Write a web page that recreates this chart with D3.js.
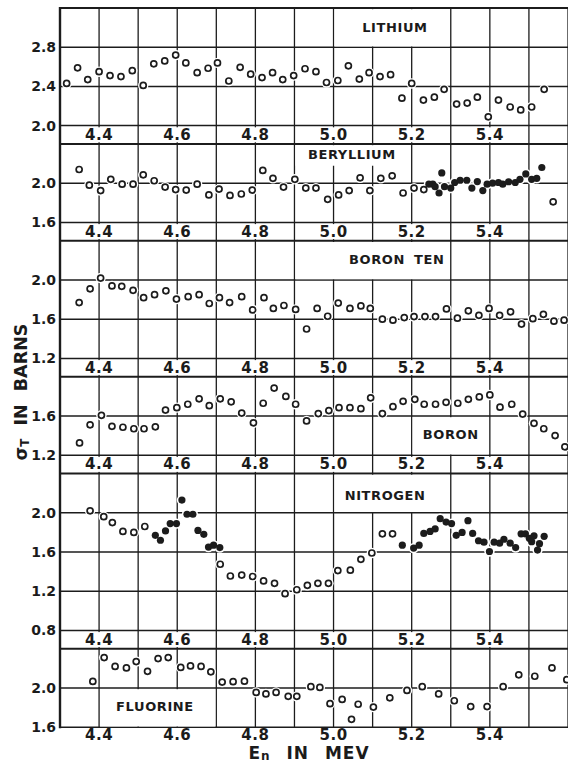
<!DOCTYPE html>
<html>
<head>
<meta charset="utf-8">
<script src="https://cdn.jsdelivr.net/npm/d3@7"></script>
<style>
  body { margin: 0; background: #fff; }
  text { font-family: "DejaVu Sans", sans-serif; font-weight: bold; fill: #1b1b1b; }
</style>
</head>
<body>
<script>
// total cross section (barns) vs neutron energy (MeV)
var energyTicks = [4.4, 4.6, 4.8, 5.0, 5.2, 5.4];

var lithiumOpen = [[4.317,2.43],[4.345,2.59],[4.371,2.47],[4.400,2.55],[4.428,2.51],[4.456,2.50],[4.485,2.56],[4.513,2.41],[4.540,2.63],[4.568,2.66],[4.596,2.72],[4.622,2.64],[4.651,2.54],[4.679,2.585],[4.703,2.64],[4.732,2.455],[4.761,2.595],[4.788,2.525],[4.817,2.49],[4.844,2.54],[4.870,2.47],[4.898,2.51],[4.927,2.58],[4.955,2.55],[4.982,2.44],[5.011,2.46],[5.038,2.61],[5.066,2.475],[5.091,2.54],[5.119,2.50],[5.146,2.52],[5.175,2.28],[5.200,2.43],[5.230,2.26],[5.258,2.29],[5.283,2.37],[5.315,2.22],[5.342,2.23],[5.368,2.29],[5.396,2.09],[5.422,2.26],[5.452,2.19],[5.479,2.16],[5.507,2.19],[5.539,2.37]];

var berylliumOpen = [[4.349,2.14],[4.375,1.98],[4.404,1.925],[4.430,2.04],[4.459,1.99],[4.487,1.99],[4.513,2.085],[4.541,2.025],[4.569,1.96],[4.596,1.935],[4.623,1.93],[4.651,1.99],[4.681,1.88],[4.707,1.94],[4.735,1.875],[4.764,1.89],[4.792,1.93],[4.819,2.13],[4.845,2.05],[4.872,1.96],[4.901,2.04],[4.929,1.95],[4.955,1.95],[4.985,1.835],[5.013,1.88],[5.040,1.925],[5.068,2.055],[5.093,1.925],[5.121,2.05],[5.150,2.075],[5.178,1.90],[5.206,1.95],[5.231,1.935],[5.562,1.81]];
var berylliumFilled = [[5.244,1.99],[5.254,1.99],[5.260,1.965],[5.270,1.90],[5.277,2.105],[5.284,1.965],[5.300,1.95],[5.310,2.007],[5.324,2.03],[5.341,2.03],[5.354,1.95],[5.368,2.017],[5.382,1.925],[5.393,1.99],[5.407,2.0],[5.422,2.007],[5.433,1.99],[5.448,2.015],[5.465,2.007],[5.477,2.04],[5.492,2.095],[5.507,2.04],[5.520,2.05],[5.533,2.16]];

var boronTenOpen = [[4.349,1.77],[4.377,1.91],[4.404,2.02],[4.433,1.94],[4.458,1.935],[4.487,1.895],[4.514,1.82],[4.542,1.85],[4.571,1.89],[4.598,1.805],[4.628,1.83],[4.656,1.85],[4.682,1.76],[4.708,1.82],[4.734,1.77],[4.765,1.83],[4.793,1.695],[4.822,1.82],[4.846,1.71],[4.873,1.74],[4.903,1.70],[4.931,1.50],[4.958,1.71],[4.985,1.63],[5.012,1.765],[5.042,1.71],[5.070,1.735],[5.094,1.71],[5.125,1.60],[5.152,1.59],[5.181,1.617],[5.206,1.627],[5.234,1.627],[5.261,1.627],[5.289,1.705],[5.317,1.61],[5.345,1.685],[5.372,1.64],[5.398,1.71],[5.425,1.64],[5.453,1.675],[5.481,1.55],[5.510,1.605],[5.537,1.65],[5.564,1.58],[5.590,1.59]];

var boronOpen = [[4.350,1.325],[4.377,1.51],[4.406,1.607],[4.433,1.495],[4.461,1.485],[4.489,1.47],[4.515,1.47],[4.544,1.49],[4.570,1.66],[4.599,1.685],[4.627,1.72],[4.656,1.775],[4.682,1.705],[4.710,1.775],[4.738,1.745],[4.765,1.63],[4.795,1.53],[4.820,1.73],[4.848,1.885],[4.878,1.80],[4.903,1.72],[4.931,1.55],[4.961,1.625],[4.988,1.655],[5.014,1.685],[5.042,1.685],[5.070,1.675],[5.095,1.785],[5.125,1.625],[5.152,1.695],[5.178,1.75],[5.208,1.77],[5.232,1.72],[5.261,1.72],[5.288,1.74],[5.318,1.73],[5.345,1.77],[5.373,1.795],[5.400,1.815],[5.426,1.69],[5.456,1.72],[5.484,1.62],[5.513,1.525],[5.538,1.47],[5.567,1.40],[5.592,1.285]];

var nitrogenOpen = [[4.377,2.02],[4.412,1.96],[4.434,1.90],[4.461,1.81],[4.489,1.80],[4.517,1.86],[4.710,1.475],[4.736,1.355],[4.765,1.365],[4.793,1.35],[4.821,1.305],[4.849,1.28],[4.876,1.175],[4.906,1.215],[4.933,1.26],[4.960,1.28],[4.987,1.28],[5.011,1.41],[5.043,1.415],[5.070,1.525],[5.098,1.59],[5.125,1.785],[5.151,1.785]];
var nitrogenFilled = [[4.544,1.77],[4.557,1.72],[4.570,1.815],[4.582,1.89],[4.598,1.89],[4.612,2.13],[4.625,1.985],[4.640,1.985],[4.653,1.82],[4.668,1.78],[4.680,1.65],[4.693,1.67],[4.709,1.645],[5.176,1.67],[5.205,1.64],[5.219,1.67],[5.231,1.79],[5.247,1.81],[5.260,1.835],[5.273,1.94],[5.288,1.905],[5.302,1.89],[5.314,1.77],[5.329,1.80],[5.344,1.92],[5.356,1.79],[5.371,1.715],[5.385,1.70],[5.399,1.605],[5.411,1.70],[5.425,1.69],[5.436,1.73],[5.452,1.69],[5.466,1.645],[5.480,1.785],[5.491,1.785],[5.501,1.74],[5.507,1.705],[5.513,1.765],[5.522,1.62],[5.527,1.685],[5.539,1.76]];

var fluorineOpen = [[4.384,2.067],[4.413,2.31],[4.441,2.22],[4.470,2.205],[4.495,2.27],[4.524,2.17],[4.551,2.30],[4.577,2.31],[4.609,2.21],[4.634,2.225],[4.661,2.22],[4.686,2.165],[4.715,2.06],[4.743,2.065],[4.772,2.07],[4.802,1.955],[4.827,1.94],[4.853,1.955],[4.884,1.915],[4.906,1.915],[4.942,2.014],[4.965,2.006],[4.991,1.84],[5.022,1.883],[5.046,1.68],[5.063,1.834],[5.102,1.805],[5.144,1.90],[5.188,1.975],[5.227,2.014],[5.269,1.94],[5.309,1.87],[5.351,1.81],[5.393,1.81],[5.434,2.014],[5.474,2.134],[5.515,2.12],[5.559,2.205],[5.597,2.085]];

var W = 568, H = 763;
var left = 60, top0 = 8, unit = 98, strip = 18.4;   // unit = px per barn
var ink = "#1c1c1c";

// box = [E from, E to, sigma from, sigma to] blanked behind the element name
var panels = [
  {name: "LITHIUM",   lo: 2.0, hi: 3.2, ticks: [2.0, 2.4, 2.8],      open: lithiumOpen,   filled: [],              box: [5.0, 5.3, 2.8, 3.2], at: [5.157, 3.0]},
  {name: "BERYLLIUM", lo: 1.6, hi: 2.4, ticks: [1.6, 2.0],           open: berylliumOpen, filled: berylliumFilled, box: [4.9, 5.2, 2.17, 2.4], at: [5.047, 2.29]},
  {name: "BORON TEN", lo: 1.2, hi: 2.4, ticks: [1.2, 1.6, 2.0],      open: boronTenOpen,  filled: [],              box: [4.9, 5.3, 2.0, 2.4], at: [5.162, 2.205]},
  {name: "BORON",     lo: 1.2, hi: 2.0, ticks: [1.2, 1.6],           open: boronOpen,     filled: [],              box: [5.2, 5.4, 1.2, 1.6], at: [5.30, 1.41]},
  {name: "NITROGEN",  lo: 0.8, hi: 2.4, ticks: [0.8, 1.2, 1.6, 2.0], open: nitrogenOpen,  filled: nitrogenFilled,  box: [5.0, 5.3, 2.0, 2.4], at: [5.132, 2.175]},
  {name: "FLUORINE",  lo: 1.6, hi: 2.4, ticks: [1.6, 2.0],           open: fluorineOpen,  filled: [],              box: [4.4, 4.7, 1.6, 2.0], at: [4.543, 1.81]}
];

var x = d3.scaleLinear().domain([4.3, 5.6]).range([left, W]);
var grid = d3.range(44, 57).map(function(d) { return d / 10; });
var fmt = d3.format(".1f");

var svg = d3.select("body").append("svg")
    .attr("width", W)
    .attr("height", H);

var y0 = top0;
panels.forEach(function(p, i) {
  var h = (p.hi - p.lo) * unit;
  var y = d3.scaleLinear().domain([p.lo, p.hi]).range([y0 + h, y0]);
  var last = i === panels.length - 1;
  var g = svg.append("g");

  // vertical grid, running on through the label strip
  g.selectAll(".vg").data(grid).enter().append("line")
      .attr("x1", x).attr("x2", x)
      .attr("y1", y0).attr("y2", last ? y0 + h : y0 + h + strip)
      .attr("stroke", ink).attr("stroke-width", 1.3);

  // horizontal grid
  g.selectAll(".hg").data(p.ticks).enter().append("line")
      .attr("x1", left).attr("x2", W)
      .attr("y1", y).attr("y2", y)
      .attr("stroke", ink).attr("stroke-width", 1.5);
  g.append("line")
      .attr("x1", left).attr("x2", W)
      .attr("y1", y0).attr("y2", y0)
      .attr("stroke", ink).attr("stroke-width", 2);

  // blank cell behind the element name
  g.append("rect")
      .attr("x", x(p.box[0]) + 1)
      .attr("width", x(p.box[1]) - x(p.box[0]) - 2)
      .attr("y", y(p.box[3]) + 1.2)
      .attr("height", y(p.box[2]) - y(p.box[3]) - 2)
      .attr("fill", "#fff");

  // y tick labels
  g.selectAll(".yl").data(p.ticks).enter().append("text")
      .attr("x", 56).attr("y", y)
      .attr("text-anchor", "end")
      .attr("dominant-baseline", "central")
      .style("font-size", "14px")
      .text(fmt);

  // x tick labels in the strip below
  var ly = last ? y0 + h + 8 : y0 + h + strip / 2;
  var xl = g.selectAll(".xl").data(energyTicks).enter().append("g")
      .attr("transform", function(d) { return "translate(" + x(d) + "," + ly + ")"; });
  if (!last) {
    xl.append("rect").attr("x", -15).attr("y", -7.5).attr("width", 30).attr("height", 15).attr("fill", "#fff");
  }
  xl.append("text")
      .attr("text-anchor", "middle")
      .attr("dominant-baseline", "central")
      .style("font-size", "15px")
      .style("letter-spacing", "0.5px")
      .text(fmt);

  // white halos break the grid round each point
  var all = p.open.concat(p.filled);
  g.selectAll(".halo").data(all).enter().append("circle")
      .attr("cx", function(d) { return x(d[0]); })
      .attr("cy", function(d) { return y(d[1]); })
      .attr("r", 5.2)
      .attr("fill", "#fff");

  g.selectAll(".op").data(p.open).enter().append("circle")
      .attr("cx", function(d) { return x(d[0]); })
      .attr("cy", function(d) { return y(d[1]); })
      .attr("r", 3)
      .attr("fill", "#fff")
      .attr("stroke", ink)
      .attr("stroke-width", 1.7);

  g.selectAll(".fp").data(p.filled).enter().append("circle")
      .attr("cx", function(d) { return x(d[0]); })
      .attr("cy", function(d) { return y(d[1]); })
      .attr("r", 3.6)
      .attr("fill", ink);

  g.append("text")
      .attr("x", x(p.at[0])).attr("y", y(p.at[1]))
      .attr("text-anchor", "middle")
      .attr("dominant-baseline", "central")
      .style("font-size", "13px")
      .style("letter-spacing", "0.6px")
      .style("word-spacing", "4px")
      .text(p.name);

  p.bottom = y0 + h;
  y0 += h + strip;
});

// left frame
svg.append("line")
    .attr("x1", left).attr("x2", left)
    .attr("y1", top0 - 1).attr("y2", panels[panels.length - 1].bottom + 1)
    .attr("stroke", ink).attr("stroke-width", 2.4);

// axis titles
var yt = svg.append("text")
    .attr("transform", "translate(21,392) rotate(-90)")
    .attr("text-anchor", "middle")
    .attr("dominant-baseline", "central")
    .style("font-size", "17.5px")
    .style("word-spacing", "7px");
yt.append("tspan").text("σ");
yt.append("tspan").attr("dy", 4).style("font-size", "12px").text("T");
yt.append("tspan").attr("dy", -4).text(" IN BARNS");

var xt = svg.append("text")
    .attr("x", 309).attr("y", 758.5)
    .attr("text-anchor", "middle")
    .style("font-size", "17px")
    .style("letter-spacing", "1px")
    .style("word-spacing", "9px");
xt.append("tspan").text("E");
xt.append("tspan").attr("dy", 1.5).style("font-size", "12px").text("n");
xt.append("tspan").attr("dy", -1.5).text(" IN MEV");
</script>
</body>
</html>
